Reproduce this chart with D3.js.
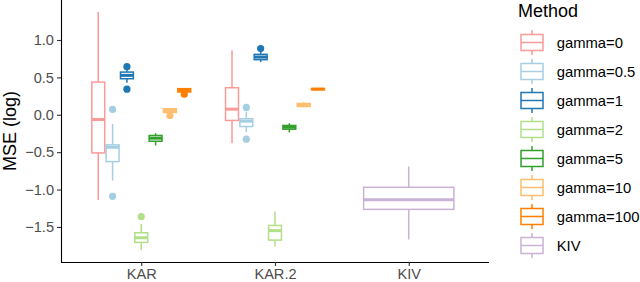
<!DOCTYPE html>
<html>
<head>
<meta charset="utf-8">
<script src="https://cdn.jsdelivr.net/npm/d3@7"></script>
<style>
  body { margin: 0; background: #fff; }
  svg { display: block; font-family: "Liberation Sans", Arial, sans-serif; }
</style>
</head>
<body>
<svg id="chart" width="640" height="282"></svg>
<script>
var categories = ["KAR", "KAR.2", "KIV"];
var methods = ["gamma=0", "gamma=0.5", "gamma=1", "gamma=2", "gamma=5", "gamma=10", "gamma=100", "KIV"];
var colors = ["#FB9A99", "#A6CEE3", "#1F78B4", "#B2DF8A", "#33A02C", "#FDBF6F", "#FF7F00", "#CAB2D6"];
var yTicks = [-1.5, -1.0, -0.5, 0.0, 0.5, 1.0];

// [lower whisker, q1, median, q3, upper whisker], one row per gamma
var karStats = [
  [-1.14, -0.51, -0.063, 0.437, 1.376],
  [-0.88, -0.626, -0.434, -0.402, -0.121],
  [0.429, 0.482, 0.527, 0.571, 0.617],
  [-1.81, -1.707, -1.645, -1.578, -1.461],
  [-0.41, -0.354, -0.313, -0.277, -0.247],
  [0.02, 0.031, 0.058, 0.08, 0.085],
  [0.30, 0.305, 0.326, 0.349, 0.352]
];
var karOutliers = [[], [0.071, -1.09], [0.643, 0.343], [-1.363], [], [-0.01], [0.276]];

var kar2Stats = [
  [-0.38, -0.076, 0.075, 0.362, 0.862],
  [-0.233, -0.157, -0.086, -0.054, 0.044],
  [0.705, 0.737, 0.772, 0.808, 0.853],
  [-1.765, -1.676, -1.55, -1.48, -1.292],
  [-0.237, -0.193, -0.166, -0.143, -0.112],
  [0.098, 0.111, 0.134, 0.151, 0.169],
  [0.335, 0.336, 0.343, 0.35, 0.351]
];
var kar2Outliers = [[], [0.098, -0.327], [0.885], [], [], [], []];

var kivStats = [-1.668, -1.265, -1.135, -0.97, -0.693];

var boxes = [];
karStats.forEach(function (s, i) {
  boxes.push({ cat: "KAR", m: i, n: 7, s: s, out: karOutliers[i] });
});
kar2Stats.forEach(function (s, i) {
  boxes.push({ cat: "KAR.2", m: i, n: 7, s: s, out: kar2Outliers[i] });
});
boxes.push({ cat: "KIV", m: 7, n: 1, s: kivStats, out: [] });

var svg = d3.select("#chart");
var panelLeft = 61, panelRight = 489, panelTop = 0, panelBottom = 262;

var x = d3.scalePoint().domain(categories).range([panelLeft, panelRight]).padding(0.6);
var y = d3.scaleLinear().domain([-1.969, 1.535]).range([panelBottom, panelTop]);
var dodge = x.step() * 0.75;

function cx(d) {
  var slot = dodge / d.n;
  var idx = d.n === 1 ? 0 : d.m;
  return x(d.cat) - dodge / 2 + slot * (idx + 0.5);
}
function bw(d) { return dodge / d.n * 0.9; }

// axes
var yAxis = svg.append("g")
  .attr("transform", "translate(" + panelLeft + ",0)")
  .call(d3.axisLeft(y).tickValues(yTicks).tickFormat(d3.format(".1f")).tickSize(4).tickPadding(3));
var xAxis = svg.append("g")
  .attr("transform", "translate(0," + panelBottom + ")")
  .call(d3.axisBottom(x).tickSize(4).tickPadding(3));
[yAxis, xAxis].forEach(function (a) {
  a.select(".domain").attr("stroke", "#000").attr("stroke-width", 1.1);
  a.selectAll(".tick line").attr("stroke", "#333").attr("stroke-width", 1.1);
  a.selectAll(".tick text").attr("fill", "#4D4D4D").style("font-size", "14.6px").style("font-family", "Liberation Sans, Arial, sans-serif");
});
yAxis.select(".domain").attr("d", "M0.5," + panelTop + "V" + (panelBottom + 0.5));
xAxis.select(".domain").attr("d", "M" + panelLeft + ",0.5H" + panelRight);

svg.append("text")
  .attr("transform", "translate(15.5," + ((panelTop + panelBottom) / 2) + ") rotate(-90)")
  .attr("text-anchor", "middle")
  .style("font-size", "18px")
  .text("MSE (log)");

// boxes
var g = svg.append("g").selectAll("g.box").data(boxes).enter().append("g")
  .attr("class", "box")
  .attr("stroke", function (d) { return colors[d.m]; })
  .attr("fill", function (d) { return colors[d.m]; });

g.append("line")
  .attr("x1", cx).attr("x2", cx)
  .attr("y1", function (d) { return y(d.s[4]); })
  .attr("y2", function (d) { return y(d.s[0]); })
  .attr("stroke-width", 1.5);

g.append("rect")
  .attr("x", function (d) { return cx(d) - bw(d) / 2; })
  .attr("width", bw)
  .attr("y", function (d) { return y(d.s[3]); })
  .attr("height", function (d) { return Math.max(0, y(d.s[1]) - y(d.s[3])); })
  .attr("fill", "#fff")
  .attr("stroke-width", 1.5);

g.append("line")
  .attr("x1", function (d) { return cx(d) - bw(d) / 2; })
  .attr("x2", function (d) { return cx(d) + bw(d) / 2; })
  .attr("y1", function (d) { return y(d.s[2]); })
  .attr("y2", function (d) { return y(d.s[2]); })
  .attr("stroke-width", 3);

g.selectAll("circle").data(function (d) { return d.out.map(function (v) { return { v: v, d: d }; }); })
  .enter().append("circle")
  .attr("cx", function (o) { return cx(o.d); })
  .attr("cy", function (o) { return y(o.v); })
  .attr("r", 3.6)
  .attr("stroke", "none");

// legend
var legend = svg.append("g").attr("transform", "translate(518,0)");
legend.append("text").attr("x", 0).attr("y", 17).style("font-size", "18px").text("Method");

var key0 = 42.5, keyStep = 29;
var items = legend.selectAll("g.item").data(methods).enter().append("g")
  .attr("class", "item")
  .attr("transform", function (d, i) { return "translate(0," + (key0 + i * keyStep) + ")"; });
items.append("line").attr("x1", 14).attr("x2", 14).attr("y1", -12.5).attr("y2", 12.5)
  .attr("stroke", function (d, i) { return colors[i]; }).attr("stroke-width", 1.5);
items.append("rect").attr("x", 3).attr("y", -8).attr("width", 22).attr("height", 16)
  .attr("fill", "#fff").attr("stroke", function (d, i) { return colors[i]; }).attr("stroke-width", 1.5);
items.append("line").attr("x1", 3).attr("x2", 25).attr("y1", 0).attr("y2", 0)
  .attr("stroke", function (d, i) { return colors[i]; }).attr("stroke-width", 1.5);
items.append("text").attr("x", 38.7).attr("y", 0).attr("dy", "0.35em")
  .style("font-size", "14.8px").attr("fill", "#000").text(function (d) { return d; });
</script>
</body>
</html>
